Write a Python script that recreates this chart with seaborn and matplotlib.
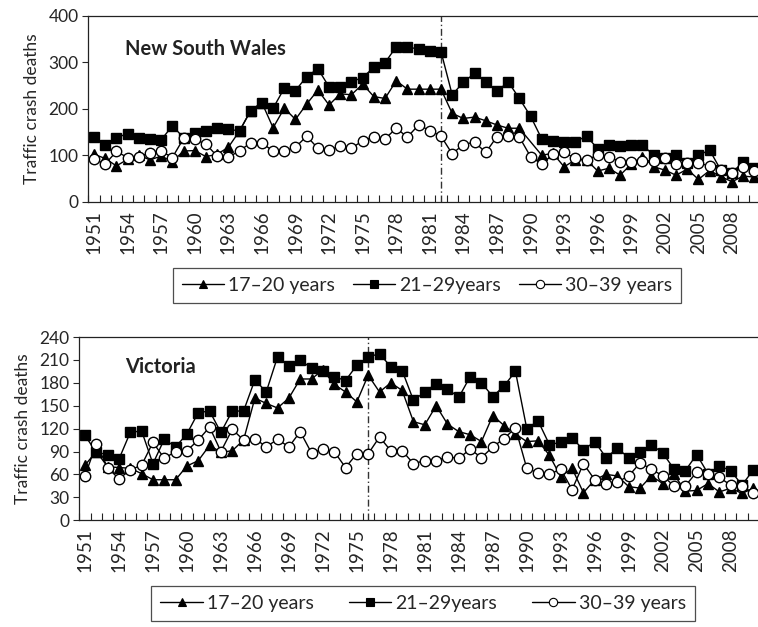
import matplotlib
matplotlib.use("Agg")
import numpy as np
import pandas as pd
import matplotlib.pyplot as plt
import seaborn as sns
from matplotlib.lines import Line2D

years = list(range(1951, 2011))

# New South Wales, deaths per year by age group
nsw_17_20 = [102, 93, 77, 91, 100, 90, 98, 86, 109, 110,
             97, 102, 117, 152, 196, 213, 159, 201, 177, 210,
             240, 208, 232, 230, 253, 226, 222, 260, 242, 242,
             242, 242, 190, 179, 182, 174, 165, 158, 158, None,
             100, 104, 75, 90, 90, 66, 72, 57, 81, 97,
             75, 68, 57, 70, 48, 67, 54, 43, 55, 53]
nsw_21_29 = [140, 123, 138, 146, 136, 134, 133, 163, 138, 147,
             152, 158, 156, 152, 196, 213, 201, 244, 239, 269,
             286, 247, 247, 258, 267, 289, 299, 333, 333, 328,
             324, 323, 230, 257, 276, 258, 237, 258, 222, 184,
             135, 131, 129, 129, 141, 114, 122, 120, 122, 122,
             100, 93, 100, 84, 100, 111, 68, 62, 86, 73]
nsw_30_39 = [91, 81, 108, 95, 97, 105, 109, 95, 136, 134,
             124, 98, 96, 109, 127, 126, 109, 109, 117, 141,
             115, 111, 120, 115, 131, 140, 135, 158, 139, 165,
             153, 141, 103, 123, 128, 106, 140, 141, 139, 97,
             81, 102, 106, 93, 90, 100, 96, 86, 86, 88,
             88, 93, 80, 84, 83, 77, 68, 61, 75, 65]

# Victoria, deaths per year by age group
vic_17_20 = [72, 90, 70, 69, 68, 61, 53, 53, 53, 71,
             78, 98, 89, 91, 105, 160, 153, 147, 160, 185,
             185, 197, 178, 168, 155, 190, 168, 180, 170, 129,
             125, 150, 126, 116, 112, 103, 137, 124, 113, 103,
             104, 85, 57, 68, 36, 53, 60, 58, 44, 42,
             58, 48, 60, 38, 39, 48, 37, 42, 35, 42]
vic_21_29 = [111, 89, 86, 80, 115, 117, 74, 106, 96, 113,
             141, 143, 115, 143, 143, 184, 168, 214, 202, 210,
             199, 196, 188, 183, 203, 214, 218, 201, 196, 157,
             168, 179, 172, 161, 188, 180, 162, 176, 195, 120,
             130, 99, 102, 108, 92, 103, 82, 94, 82, 90,
             99, 88, 67, 65, 86, 61, 71, 65, 46, 66]
vic_30_39 = [58, 100, 69, 54, 66, 72, 102, 81, 90, 91,
             105, 122, 90, 119, 105, 107, 96, 106, 96, 116,
             88, 93, 90, 69, 87, 87, 109, 91, 91, 74,
             78, 78, 83, 81, 93, 82, 96, 107, 121, 68,
             62, 60, 67, 40, 74, 53, 47, 50, 58, 75,
             67, 58, 45, 45, 63, 61, 56, 46, 45, 35]

series_labels = ["17\u201320 years", "21\u201329years", "30\u201339 years"]
label_years = list(range(1951, 2011, 3))

sns.set_style("ticks")
plt.rcParams["font.family"] = ["Lato", "DejaVu Sans"]
plt.rcParams["axes.edgecolor"] = "#222222"

marker_styles = [
    dict(marker="^", markerfacecolor="black", markersize=7.5),
    dict(marker="s", markerfacecolor="black", markersize=6.5),
    dict(marker="o", markerfacecolor="white", markersize=7.5),
]

W, H = 758, 627
fig = plt.figure(figsize=(W / 100, H / 100), dpi=100)


def px_axes(left, right, top, bottom):
    return fig.add_axes([left / W, 1 - bottom / H, (right - left) / W, (bottom - top) / H])


def draw_panel(ax, series, ymax, ystep, title, title_pos, cutoff_year):
    for vals, style in zip(series, marker_styles):
        df = pd.DataFrame({"year": years, "deaths": vals}).dropna()
        sns.lineplot(data=df, x="year", y="deaths", ax=ax, color="black",
                     linewidth=1.0, markeredgecolor="black", markeredgewidth=1.0,
                     errorbar=None, legend=False, **style)
    ax.axvline(cutoff_year, color="#333333", linewidth=1.0,
               linestyle=(0, (5, 2, 1, 2)), zorder=1)
    ax.set_xlim(1950.5, 2010.5)
    ax.set_ylim(0, ymax)
    ax.set_yticks(np.arange(0, ymax + 1, ystep))
    ax.tick_params(axis="y", direction="out", length=4, width=0.8, labelsize=12.5, pad=3)
    ax.set_xticks(label_years)
    ax.set_xticklabels([str(y) for y in label_years], rotation=90)
    ax.tick_params(axis="x", which="major", length=0, labelsize=13.5, pad=6)
    ax.set_xticks(np.arange(1950.5, 2011, 1), minor=True)
    ax.tick_params(axis="x", which="minor", direction="in", length=5, width=0.8,
                   color="#222222")
    ax.set_xlabel("")
    ax.set_ylabel("Traffic crash deaths", fontsize=12.5, labelpad=6)
    for side in ["top", "left", "bottom"]:
        ax.spines[side].set_linewidth(0.9)
    ax.spines["right"].set_visible(False)
    ax.text(title_pos[0], title_pos[1], title, transform=ax.transAxes,
            fontsize=14.5, fontweight="bold", va="center", ha="left", color="#222222")


def add_legend(center, colspacing):
    handles = [Line2D([], [], color="black", linewidth=1.0, markeredgecolor="black",
                      markeredgewidth=0.8, **{**s, "markersize": s["markersize"] * 0.8})
               for s in marker_styles]
    leg = fig.legend(handles, series_labels, loc="center",
                     bbox_to_anchor=(center[0] / W, 1 - center[1] / H),
                     bbox_transform=fig.transFigure, ncol=3, frameon=True,
                     fancybox=False, edgecolor="#222222", fontsize=14,
                     handlelength=2.2, handletextpad=0.2, columnspacing=colspacing,
                     borderpad=0.45, borderaxespad=0)
    leg.get_frame().set_linewidth(0.9)


ax1 = px_axes(88.4, 760, 15.7, 201.7)
draw_panel(ax1, [nsw_17_20, nsw_21_29, nsw_30_39], 400, 100,
           "New South Wales", (0.055, 0.82), 1982)
add_legend((427, 285.5), 0.9)

ax2 = px_axes(79.3, 759, 337, 520.2)
draw_panel(ax2, [vic_17_20, vic_21_29, vic_30_39], 240, 30,
           "Victoria", (0.067, 0.835), 1976)
add_legend((423, 603.5), 1.8)

fig.savefig("out.png", dpi=100)
